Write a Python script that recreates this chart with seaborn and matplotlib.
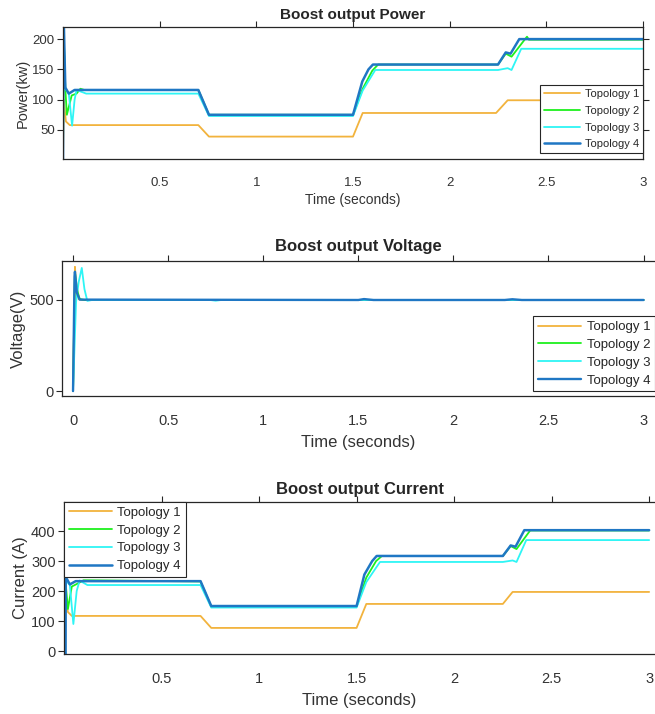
import matplotlib
matplotlib.use("Agg")
import matplotlib.pyplot as plt
import seaborn as sns

sns.set_style("white")
plt.rcParams['font.family'] = ['Liberation Sans', 'DejaVu Sans']

#
# DATA
#

labels = ['Topology 1', 'Topology 2', 'Topology 3', 'Topology 4']
colors = ['#F2B33D', '#1EF01E', '#2EF5F5', '#1F77C4']

# boost output power (kW)
t_p1 = [0, 0.004, 0.015, 0.035, 0.70, 0.755, 1.50, 1.55, 2.24, 2.30, 3.0]
p1 = [0, 100, 64, 58, 58, 39, 39, 78, 78, 99, 99]
t_p2 = [0, 0.003, 0.012, 0.02, 0.045, 0.07, 0.09, 0.11, 0.70, 0.755, 1.50, 1.55, 1.60, 1.63, 2.25, 2.29, 2.32, 2.39, 2.40, 2.41, 3.0]
p2 = [0, 215, 118, 75, 107, 110, 118, 116, 116, 75, 75, 118, 148, 158, 158, 176, 171, 200, 204, 199, 199]
t_p3 = [0, 0.003, 0.012, 0.03, 0.047, 0.06, 0.07, 0.12, 0.70, 0.755, 1.50, 1.55, 1.615, 2.25, 2.30, 2.32, 2.37, 3.0]
p3 = [0, 210, 118, 110, 57, 100, 116, 110, 110, 73, 73, 115, 149, 149, 152, 149, 184, 184]
t_p4 = [0, 0.002, 0.004, 0.012, 0.03, 0.06, 0.70, 0.755, 1.50, 1.548, 1.58, 1.603, 2.25, 2.29, 2.315, 2.36, 3.0]
p4 = [0, 230, 230, 120, 110, 116, 116, 75, 75, 130, 150, 158, 158, 178, 176, 200, 200]

# boost output voltage (V)
t_v1 = [0, 0.01, 0.014, 0.03, 0.05, 3.0]
v1 = [0, 682, 620, 505, 500, 500]
t_v2 = [0, 0.01, 0.02, 0.035, 0.06, 3.0]
v2 = [0, 655, 560, 505, 500, 500]
t_v3 = [0, 0.016, 0.03, 0.046, 0.06, 0.075, 0.10, 0.72, 0.75, 0.78, 3.0]
v3 = [0, 490, 600, 676, 560, 495, 500, 500, 496, 500, 500]
t_v4 = [0, 0.008, 0.01, 0.02, 0.035, 1.50, 1.53, 1.58, 2.27, 2.31, 2.36, 3.0]
v4 = [0, 630, 655, 540, 502, 500, 505, 500, 500, 504, 500, 500]

# boost output current (A)
t_c1 = [0, 0.004, 0.02, 0.04, 0.70, 0.755, 1.50, 1.55, 2.25, 2.30, 3.0]
c1 = [0, 200, 130, 117, 117, 77, 77, 157, 157, 197, 197]
t_c2 = [0, 0.003, 0.008, 0.02, 0.04, 0.07, 0.10, 0.70, 0.755, 1.50, 1.55, 1.60, 1.63, 2.25, 2.29, 2.32, 2.39, 3.0]
c2 = [0, 240, 230, 140, 215, 225, 236, 232, 148, 148, 245, 300, 317, 317, 350, 340, 402, 402]
t_c3 = [0, 0.003, 0.01, 0.03, 0.048, 0.065, 0.08, 0.12, 0.70, 0.755, 1.50, 1.55, 1.62, 2.25, 2.30, 2.32, 2.37, 3.0]
c3 = [0, 230, 235, 220, 90, 200, 235, 220, 220, 145, 145, 230, 297, 297, 302, 297, 370, 370]
t_c4 = [0, 0.002, 0.004, 0.006, 0.008, 0.015, 0.03, 0.06, 0.70, 0.755, 1.50, 1.54, 1.58, 1.603, 2.25, 2.29, 2.315, 2.36, 3.0]
c4 = [0, 400, 380, -20, 240, 240, 222, 233, 233, 150, 150, 255, 300, 317, 317, 352, 348, 403, 403]

power = [(t_p1, p1), (t_p2, p2), (t_p3, p3), (t_p4, p4)]
voltage = [(t_v1, v1), (t_v2, v2), (t_v3, v3), (t_v4, v4)]
current = [(t_c1, c1), (t_c2, c2), (t_c3, c3), (t_c4, c4)]

W, H = 655, 714
fig = plt.figure(figsize=(W / 100, H / 100), dpi=100)

def px_axes(left, right, top, bottom):
  return fig.add_axes([left / W, 1 - bottom / H, (right - left) / W, (bottom - top) / H])

spine_color = '#262626'
text_color = '#333333'

def style_axes(ax, fs, right_ticks):
  for s in ax.spines.values():
    s.set_color(spine_color)
    s.set_linewidth(0.9)
  ax.tick_params(axis='both', which='major', direction='out', length=4, width=0.8,
                 colors=spine_color, labelcolor=text_color, labelsize=fs)
  ax.tick_params(axis='x', bottom=False, top=True, labeltop=False, labelbottom=True, pad=9)
  ax.tick_params(axis='y', left=True, right=right_ticks, labelright=False, pad=2)

def draw_panel(ax, series, lw):
  for i, (t, v) in enumerate(series):
    sns.lineplot(x=t, y=v, ax=ax, color=colors[i], label=labels[i],
                 linewidth=lw[i], estimator=None, sort=False)

def make_legend(ax, fs, spacing, **kw):
  leg = ax.legend(borderaxespad=0, fontsize=fs, handlelength=3.3, labelspacing=spacing,
                  fancybox=False, framealpha=1, edgecolor=spine_color, borderpad=0.35,
                  handletextpad=0.4, **kw)
  leg.get_frame().set_linewidth(0.8)
  return leg

#
# panel 1: power
#
ax1 = px_axes(63, 643, 27, 159)
draw_panel(ax1, power, [1.3, 1.3, 1.3, 1.8])
ax1.set_xlim(0, 3.0)
ax1.set_ylim(2, 220)
ax1.set_xticks([0.5, 1, 1.5, 2, 2.5, 3])
ax1.set_xticklabels(['0.5', '1', '1.5', '2', '2.5', '3'])
ax1.set_yticks([50, 100, 150, 200])
style_axes(ax1, 9.5, True)
ax1.set_title('Boost output Power', fontsize=11, fontweight='bold', pad=6)
ax1.set_xlabel('Time (seconds)', fontsize=10, color=text_color, labelpad=3)
ax1.set_ylabel('Power(kw)', fontsize=10.5, color=text_color, labelpad=2)
make_legend(ax1, 8, 0.6, loc='lower right', bbox_to_anchor=(1.0, 0.045))

#
# panel 2: voltage
#
ax2 = px_axes(62, 655, 261, 396)
draw_panel(ax2, voltage, [1.3, 1.3, 1.3, 1.7])
ax2.set_xlim(-0.058, 3.06)
ax2.set_ylim(-27, 714)
ax2.set_xticks([0, 0.5, 1, 1.5, 2, 2.5, 3])
ax2.set_xticklabels(['0', '0.5', '1', '1.5', '2', '2.5', '3'])
ax2.set_yticks([0, 500])
style_axes(ax2, 10.5, False)
ax2.spines['right'].set_visible(False)
ax2.set_title('Boost output Voltage', fontsize=12, fontweight='bold', pad=7)
ax2.set_xlabel('Time (seconds)', fontsize=12, color=text_color, labelpad=5)
ax2.set_ylabel('Voltage(V)', fontsize=12, color=text_color, labelpad=2)
make_legend(ax2, 9.5, 0.42, loc='lower right', bbox_to_anchor=(1.0, 0.035))

#
# panel 3: current
#
ax3 = px_axes(64, 655, 502, 654)
draw_panel(ax3, current, [1.3, 1.3, 1.3, 1.8])
ax3.set_xlim(0, 3.03)
ax3.set_ylim(-10, 497)
ax3.set_xticks([0.5, 1, 1.5, 2, 2.5, 3])
ax3.set_xticklabels(['0.5', '1', '1.5', '2', '2.5', '3'])
ax3.set_yticks([0, 100, 200, 300, 400])
style_axes(ax3, 10.5, False)
ax3.spines['right'].set_visible(False)
ax3.set_title('Boost output Current', fontsize=12, fontweight='bold', pad=6)
ax3.set_xlabel('Time (seconds)', fontsize=12, color=text_color, labelpad=5)
ax3.set_ylabel('Current (A)', fontsize=12, color=text_color, labelpad=2)
make_legend(ax3, 9.5, 0.42, loc='upper left', bbox_to_anchor=(0.0, 1.0))

fig.savefig('out.png', dpi=100)
